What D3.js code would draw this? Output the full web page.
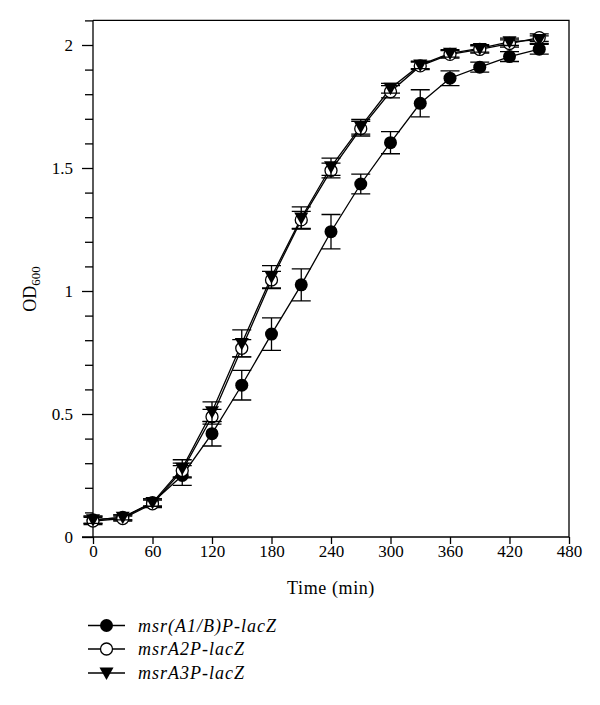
<!DOCTYPE html>
<html><head><meta charset="utf-8">
<script src="https://cdn.jsdelivr.net/npm/d3@7"></script>
<style>body{margin:0;background:#fff;} text{font-family:"Liberation Serif","DejaVu Serif",serif;}</style>
</head><body><svg id="c" width="600" height="705"></svg>
<script>
const times = [0,30,60,90,120,150,180,210,240,270,300,330,360,390,420,450];
const s1 = [0.07,0.08,0.14,0.25,0.42,0.617,0.825,1.025,1.241,1.435,1.603,1.763,1.865,1.91,1.953,1.983];
const s1err = [0.015,0.01,0.015,0.04,0.05,0.06,0.066,0.065,0.07,0.04,0.045,0.055,0.03,0.02,0.02,0.02];
const s2 = [0.065,0.075,0.135,0.27,0.489,0.767,1.045,1.289,1.49,1.66,1.81,1.915,1.962,1.982,2.006,2.03];
const s2err = [0.015,0.01,0.015,0.03,0.03,0.035,0.035,0.035,0.03,0.03,0.025,0.015,0.015,0.015,0.015,0.015];
const s3 = [0.07,0.08,0.14,0.279,0.509,0.787,1.058,1.297,1.505,1.668,1.824,1.919,1.966,1.986,2.013,2.022];
const s3err = [0.015,0.01,0.015,0.035,0.04,0.055,0.045,0.045,0.035,0.03,0.02,0.015,0.015,0.015,0.015,0.015];
const seriesNames = ["msr(A1/B)P-lacZ","msrA2P-lacZ","msrA3P-lacZ"];
const xTicks = [0,60,120,180,240,300,360,420,480];
const yMajor = [0,0.5,1,1.5,2];
const yLabels = ["0","0.5","1","1.5","2"];

const svg = d3.select("#c");
const x = d3.scaleLinear().domain([0,480]).range([93,569]);
const y = d3.scaleLinear().domain([0,2.1]).range([537,20.4]);

const series = [
  {vals:s1, err:s1err, type:"filled"},
  {vals:s2, err:s2err, type:"open"},
  {vals:s3, err:s3err, type:"tri"}
];

// axes
const yMinor = d3.range(0,22).map(i=>i/10).filter(v=>!yMajor.some(m=>Math.abs(m-v)<1e-9));
const gY = svg.append("g").attr("transform","translate(93,0)")
  .call(d3.axisLeft(y).tickValues(yMajor).tickSize(11).tickPadding(9).tickFormat((d,i)=>yLabels[i]));
svg.append("g").attr("transform","translate(93,0)")
  .call(d3.axisLeft(y).tickValues(yMinor).tickSize(8).tickFormat(""))
  .call(g=>g.select(".domain").remove());
const gX = svg.append("g").attr("transform","translate(0,537)")
  .call(d3.axisBottom(x).tickValues(xTicks).tickSize(7).tickPadding(1).tickSizeOuter(0));
svg.selectAll(".domain").attr("stroke","#000").attr("stroke-width",1.3);
svg.selectAll(".tick line").attr("stroke","#000").attr("stroke-width",1.3);
svg.selectAll(".tick text").attr("font-size",17).attr("fill","#000").style("font-family","'Liberation Serif',serif");
gY.select(".domain").attr("d","M0,537V20.4");
gX.select(".domain").attr("d","M82,0H569");
// frame
svg.append("path").attr("d",`M${x(0)},${y(2.1)}H${x(480)}V${y(0)}`).attr("fill","none").attr("stroke","#000").attr("stroke-width",1.3);

// axis titles
svg.append("text").attr("x",331).attr("y",594).attr("text-anchor","middle").attr("font-size",18).attr("letter-spacing",0.6).text("Time (min)");
const yl = svg.append("text").attr("transform","translate(36,289) rotate(-90)").attr("text-anchor","middle").attr("font-size",18);
yl.append("tspan").text("OD");
yl.append("tspan").attr("font-size",13).attr("dy",4).text("600");

const line = d3.line().x((d,i)=>x(times[i])).y(d=>y(d));
function marker(g, type, cx, cy){
  if(type==="filled") g.append("circle").attr("cx",cx).attr("cy",cy).attr("r",6.5).attr("fill","#000");
  else if(type==="open") g.append("circle").attr("cx",cx).attr("cy",cy).attr("r",6).attr("fill","#fff").attr("stroke","#000").attr("stroke-width",1.3);
  else g.append("path").attr("d",`M${cx-7},${cy-5.5}L${cx+7},${cy-5.5}L${cx},${cy+7}Z`).attr("fill","#000");
}
const plot = svg.append("g");
series.forEach(s=>{
  plot.append("path").attr("d",line(s.vals)).attr("fill","none").attr("stroke","#000").attr("stroke-width",1.3);
});
series.forEach(s=>{
  const g = plot.append("g");
  s.vals.forEach((v,i)=>{
    const cx = x(times[i]), y0 = y(v-s.err[i]), y1 = y(v+s.err[i]);
    g.append("path").attr("d",`M${cx},${y0}V${y1}M${cx-9.5},${y0}H${cx+9.5}M${cx-9.5},${y1}H${cx+9.5}`)
      .attr("stroke","#000").attr("stroke-width",1.3).attr("fill","none");
  });
  s.vals.forEach((v,i)=>marker(g, s.type, x(times[i]), y(v)));
});

// legend
const lg = svg.append("g");
const rows = [625.5,649,673];
series.forEach((s,i)=>{
  lg.append("path").attr("d",`M88,${rows[i]}H125`).attr("stroke","#000").attr("stroke-width",1.5);
  marker(lg, s.type, 106.5, rows[i]);
  lg.append("text").attr("x",138).attr("y",rows[i]+6).attr("font-size",18).attr("font-style","italic").attr("letter-spacing",1).text(seriesNames[i]);
});
</script></body></html>
